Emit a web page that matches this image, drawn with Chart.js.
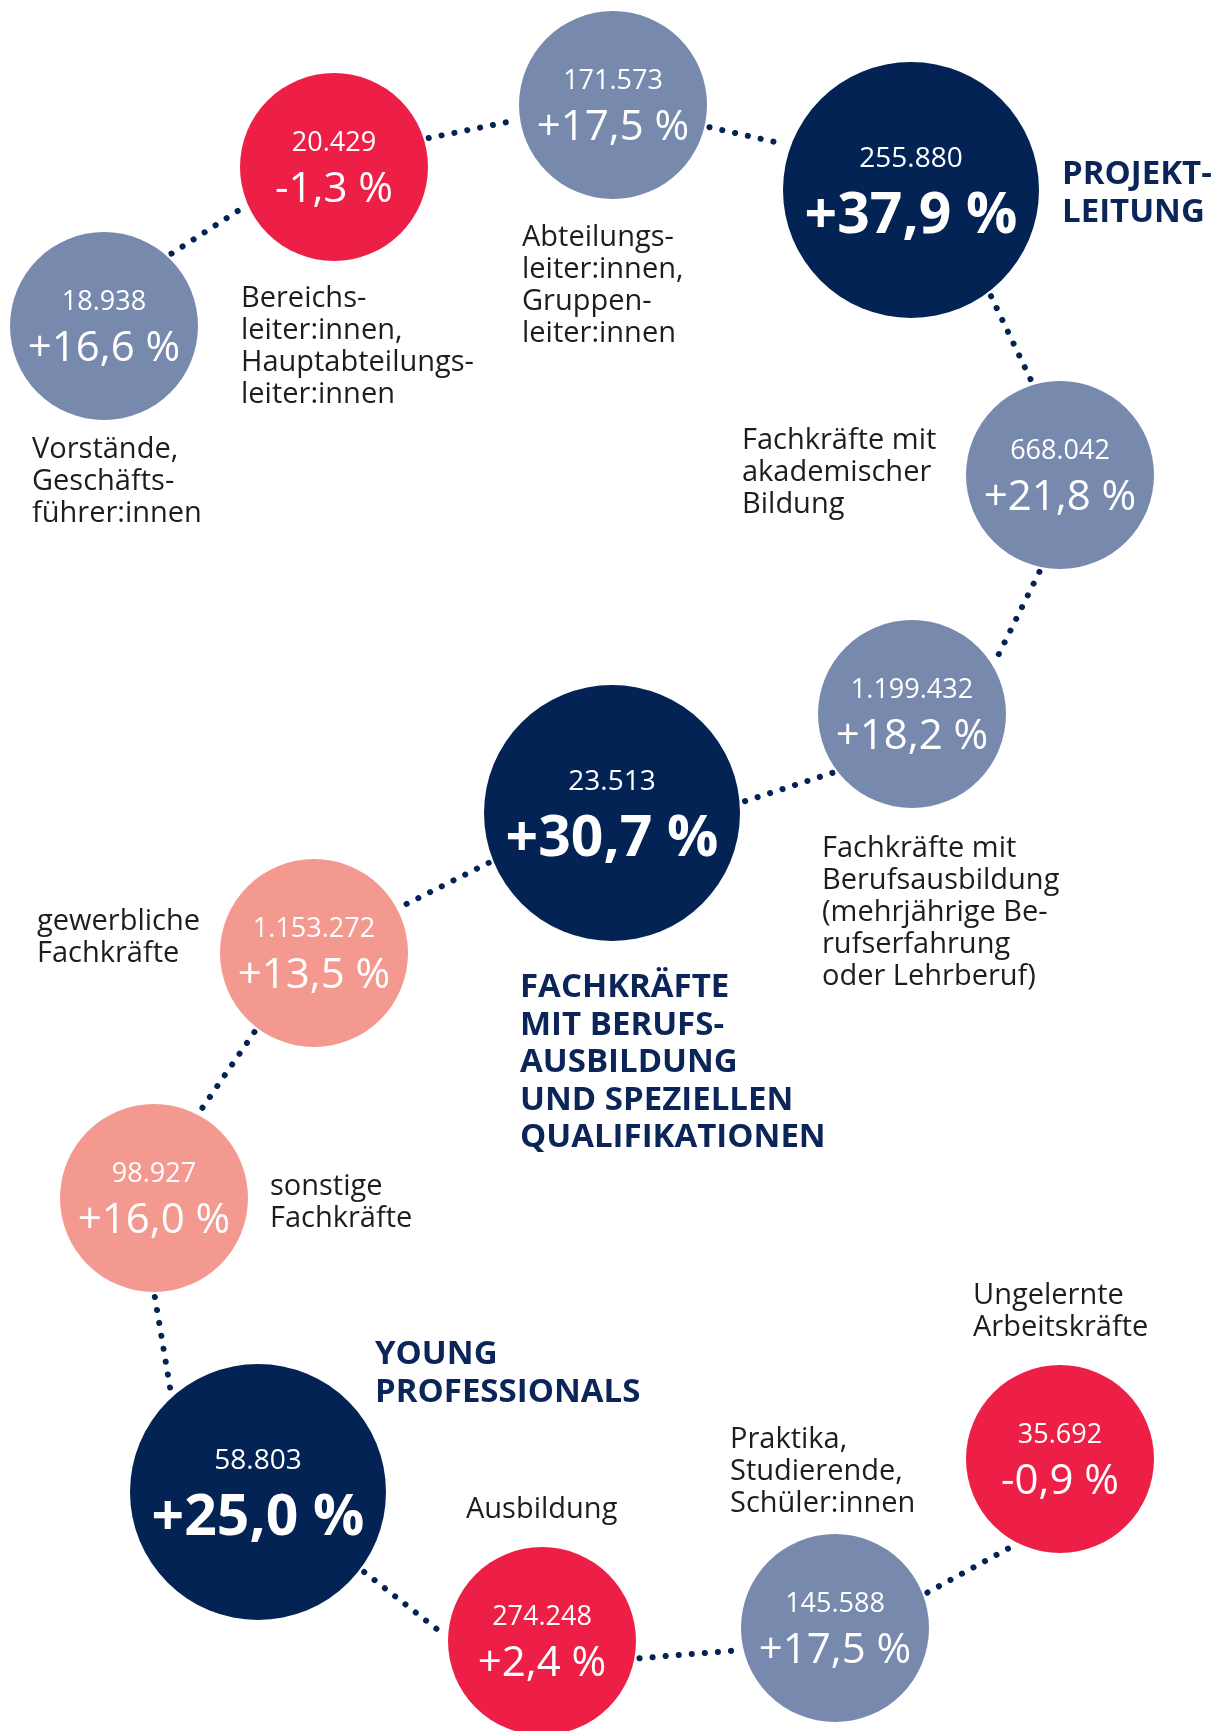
<!DOCTYPE html>
<html>
<head>
<meta charset="utf-8">
<script src="https://cdn.jsdelivr.net/npm/chart.js@4"></script>
<style>
  html, body { margin: 0; padding: 0; background: #fff; }
  #c { display: block; }
</style>
</head>
<body>
<canvas id="c" width="1223" height="1731"></canvas>
<script>
// Kategorien (Zeilenumbrüche wie im Original)
const categories = [
  "Vorstände,\nGeschäfts-\nführer:innen",
  "Bereichs-\nleiter:innen,\nHauptabteilungs-\nleiter:innen",
  "Abteilungs-\nleiter:innen,\nGruppen-\nleiter:innen",
  "PROJEKT-\nLEITUNG",
  "Fachkräfte mit\nakademischer\nBildung",
  "Fachkräfte mit\nBerufsausbildung\n(mehrjährige Be-\nrufserfahrung\noder Lehrberuf)",
  "FACHKRÄFTE\nMIT BERUFS-\nAUSBILDUNG\nUND SPEZIELLEN\nQUALIFIKATIONEN",
  "gewerbliche\nFachkräfte",
  "sonstige\nFachkräfte",
  "YOUNG\nPROFESSIONALS",
  "Ausbildung",
  "Praktika,\nStudierende,\nSchüler:innen",
  "Ungelernte\nArbeitskräfte"
];
const counts  = [18938, 20429, 171573, 255880, 668042, 1199432, 23513, 1153272, 98927, 58803, 274248, 145588, 35692];
const changes = [16.6, -1.3, 17.5, 37.9, 21.8, 18.2, 30.7, 13.5, 16.0, 25.0, 2.4, 17.5, -0.9];
const isGroup = [false, false, false, true, false, false, true, false, false, true, false, false, false];
const tones   = ["blue", "red", "blue", "navy", "blue", "blue", "navy", "salmon", "salmon", "navy", "red", "blue", "red"];

// Layout: Kreismittelpunkte, Beschriftungsversatz (px), Anschlusswinkel der Punktlinien (Grad)
const posX = [104, 334, 613, 911, 1060, 912, 612, 314, 154, 258, 542, 835, 1060];
const posY = [326, 167, 105, 190, 475, 714, 813, 953, 1198, 1492, 1641, 1628, 1459];
const labelOffset = [
  [-72, 124], [-93, 132], [-91, 133], [151, -15], [-318, -34], [-90, 135], [-92, 175],
  [-277, -31], [116, -11], [117, -137], [-76, -131], [-105, -188], [-87, -163]
];
const linkOut = [-47, -17, 13, 53, 102, 143.5, 158, 127, 89.5, 37, 10, -21];
const linkIn  = [156, 171, -160, -107, -32.5, -5, -28, -62, -131, -176, 167, 118.5];

const colors = { navy: "#022354", blue: "#7889ae", red: "#ed1f46", salmon: "#f4998f" };
const FONT = "'Open Sans', 'DejaVu Sans', sans-serif";

function fmtCount(n) {
  return String(n).replace(/\B(?=(\d{3})+(?!\d))/g, ".");
}
function fmtChange(v) {
  return (v > 0 ? "+" : "") + v.toFixed(1).replace(".", ",") + " %";
}

const radius = isGroup.map(g => (g ? 128 : 94));
const bubbleData = counts.map((c, i) => ({ x: posX[i], y: posY[i], r: radius[i] }));

function edgePoint(i, deg) {
  const a = deg * Math.PI / 180, r = radius[i] + 5;
  return { x: posX[i] + r * Math.cos(a), y: posY[i] + r * Math.sin(a) };
}

// gepunktete Verbindungen zwischen aufeinanderfolgenden Kreisen
const linkSets = linkOut.map((a, i) => ({
  type: "line",
  data: [edgePoint(i, a), edgePoint(i + 1, linkIn[i])],
  borderColor: colors.navy,
  borderWidth: 6,
  borderDash: [0.1, 13],
  borderCapStyle: "round",
  pointRadius: 0,
  fill: false,
  tension: 0,
  order: 2
}));

// Texte in und neben den Kreisen
const textPlugin = {
  id: "bubbleText",
  afterDatasetsDraw(chart) {
    const ctx = chart.ctx;
    const meta = chart.getDatasetMeta(0);
    ctx.save();
    meta.data.forEach((el, i) => {
      const { x, y } = el.getProps(["x", "y"], true);
      const big = isGroup[i];
      ctx.fillStyle = "#fff";
      ctx.textAlign = "center";
      ctx.textBaseline = "middle";
      ctx.font = (big ? "28px " : "27px ") + FONT;
      ctx.fillText(fmtCount(counts[i]), x, y + (big ? -31 : -24));
      ctx.font = (big ? "bold 57px " : "42px ") + FONT;
      ctx.fillText(fmtChange(changes[i]), x, y + (big ? 27 : 23));

      const lines = categories[i].split("\n");
      const [dx, dy] = labelOffset[i];
      ctx.textAlign = "left";
      if (big) {
        ctx.fillStyle = "#0b2559";
        ctx.font = "bold 33px " + FONT;
        lines.forEach((t, k) => ctx.fillText(t, x + dx, y + dy + k * 37.5));
      } else {
        ctx.fillStyle = "#1d1d1b";
        ctx.font = "29px " + FONT;
        lines.forEach((t, k) => ctx.fillText(t, x + dx, y + dy + k * 32));
      }
    });
    ctx.restore();
  }
};

new Chart(document.getElementById("c"), {
  type: "bubble",
  data: {
    datasets: [
      {
        data: bubbleData,
        backgroundColor: tones.map(t => colors[t]),
        borderWidth: 0,
        hoverBorderWidth: 0,
        order: 1
      },
      ...linkSets
    ]
  },
  options: {
    responsive: false,
    animation: false,
    devicePixelRatio: 1,
    clip: false,
    layout: { padding: 0, autoPadding: false },
    events: [],
    plugins: { legend: { display: false }, tooltip: { enabled: false } },
    scales: {
      x: { type: "linear", min: 0, max: 1223, display: false },
      y: { type: "linear", min: 0, max: 1731, reverse: true, display: false }
    }
  },
  plugins: [textPlugin]
});
</script>
</body>
</html>
